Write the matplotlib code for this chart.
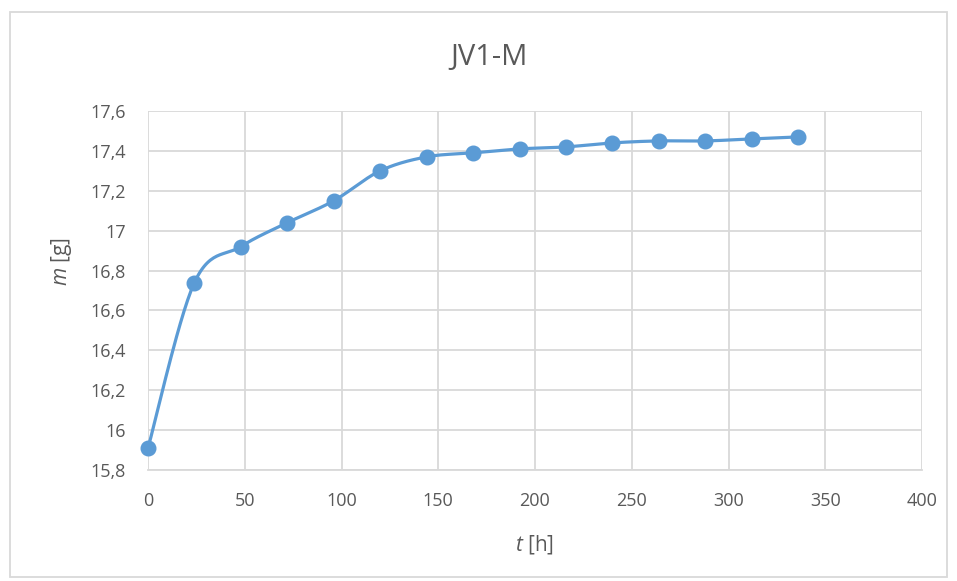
import numpy as np
import matplotlib
matplotlib.use("Agg")
import matplotlib.pyplot as plt
from matplotlib.patches import Rectangle

# mass over time, sample JV1-M
t_h = [0, 24, 48, 72, 96, 120, 144, 168, 192, 216, 240, 264, 288, 312, 336]
m_g = [15.91, 16.74, 16.92, 17.04, 17.15, 17.30, 17.37, 17.39, 17.41, 17.42,
       17.44, 17.45, 17.45, 17.46, 17.47]

x_ticks = [0, 50, 100, 150, 200, 250, 300, 350, 400]
y_ticks = [15.8, 16.0, 16.2, 16.4, 16.6, 16.8, 17.0, 17.2, 17.4, 17.6]
y_ticklabels = ["15,8", "16", "16,2", "16,4", "16,6", "16,8", "17", "17,2", "17,4", "17,6"]

txt = "#595959"
grid_c = "#D9D9D9"
blue = "#5B9BD5"

plt.rcParams["font.family"] = ["Open Sans", "DejaVu Sans"]
plt.rcParams["mathtext.fontset"] = "custom"
plt.rcParams["mathtext.it"] = "Open Sans:italic"
plt.rcParams["mathtext.rm"] = "Open Sans"


def smooth(x, y, n=30):
    # excel-like smoothed line: bezier through points (catmull-rom control points)
    p = np.column_stack([x, y]).astype(float)
    p_ext = np.vstack([p[0], p, p[-1]])
    out = []
    s = np.linspace(0, 1, n)[:, None]
    for i in range(len(p) - 1):
        p0, p1, p2, p3 = p_ext[i], p_ext[i + 1], p_ext[i + 2], p_ext[i + 3]
        c1 = p1 + (p2 - p0) / 6
        c2 = p2 - (p3 - p1) / 6
        seg = ((1 - s) ** 3) * p1 + 3 * ((1 - s) ** 2) * s * c1 + 3 * (1 - s) * s ** 2 * c2 + s ** 3 * p2
        out.append(seg if i == 0 else seg[1:])
    out = np.vstack(out)
    return out[:, 0], out[:, 1]


fig = plt.figure(figsize=(9.57, 5.81), dpi=100)
fig.patches.append(Rectangle((10 / 957, 1 - 577 / 581), 937 / 957, 565 / 581,
                             transform=fig.transFigure, fill=False,
                             edgecolor=grid_c, linewidth=1.3))

ax = fig.add_axes([148 / 957, 1 - 470 / 581, 774 / 957, 359 / 581])

sx, sy = smooth(t_h, m_g)
ax.plot(sx, sy, color=blue, linewidth=2.3, zorder=3, solid_capstyle="round", clip_on=False)
ax.plot(t_h, m_g, "o", color=blue, markersize=10.5, zorder=4, clip_on=False)

ax.set_xlim(0, 400)
ax.set_ylim(15.8, 17.6)
ax.set_xticks(x_ticks)
ax.set_yticks(y_ticks)
ax.set_yticklabels(y_ticklabels)
ax.grid(True, color=grid_c, linewidth=1.3)
ax.set_axisbelow(True)
for s in ["top", "right", "left"]:
    ax.spines[s].set_visible(False)
ax.spines["bottom"].set_color(grid_c)
ax.spines["bottom"].set_linewidth(1.3)
ax.tick_params(length=0, labelsize=13, colors=txt)
ax.tick_params(axis="y", pad=16)
ax.tick_params(axis="x", pad=16)

fig.text(489 / 957, 1 - 58 / 581, "JV1-M", fontsize=21, color=txt, ha="center", va="center")
fig.text(535 / 957, 1 - 545 / 581, r"$t$ [h]", fontsize=15, color=txt, ha="center", va="center")
fig.text(62 / 957, 1 - 262 / 581, r"$m$ [g]", fontsize=15, color=txt, ha="center", va="center",
         rotation=90)

fig.savefig("out.png", dpi=100)
